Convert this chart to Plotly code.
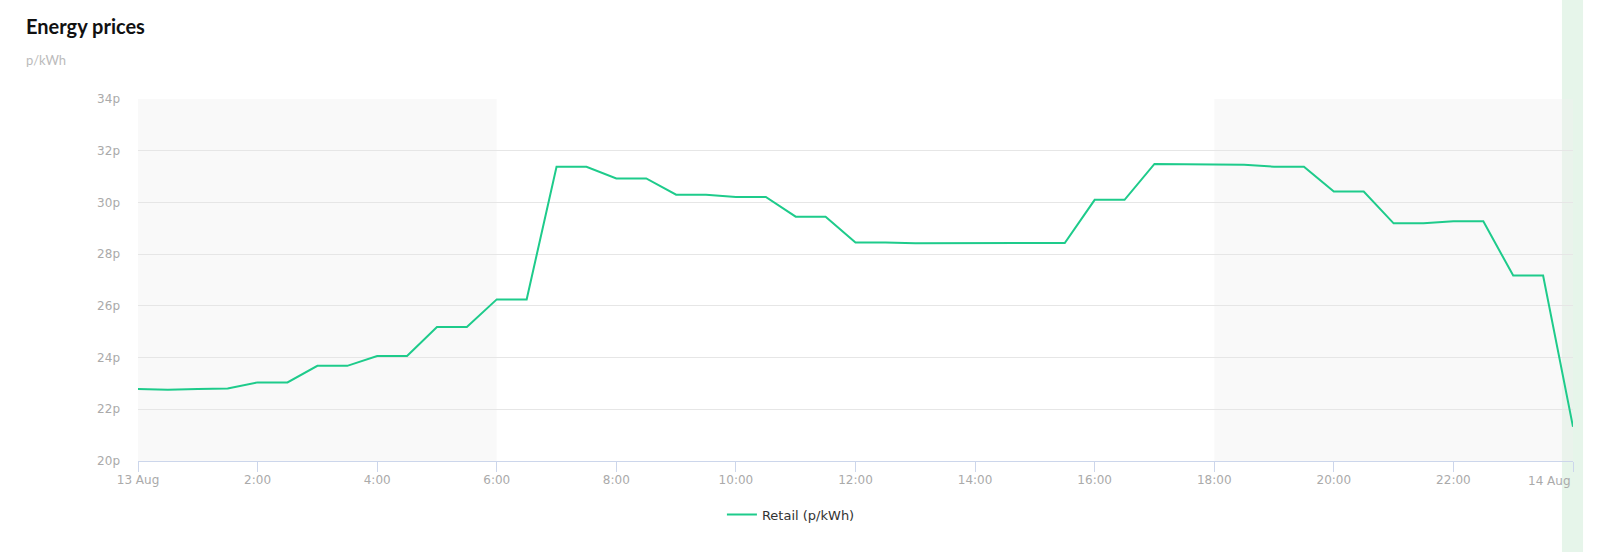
import pandas as pd
import plotly.graph_objects as go

# ---- data ----
start = "2023-08-13 00:00"
retail_p_kwh = [
    22.78, 22.76, 22.78, 22.80, 23.04, 23.04, 23.68, 23.68,   # 00:00-03:30
    24.06, 24.06, 25.18, 25.18, 26.25, 26.25, 31.38, 31.38,   # 04:00-07:30
    30.93, 30.93, 30.30, 30.30, 30.21, 30.21, 29.45, 29.45,   # 08:00-11:30
    28.45, 28.45, 28.42, 28.42, 28.42, 28.43, 28.43, 28.43,   # 12:00-15:30
    30.10, 30.10, 31.49, 31.49, 31.47, 31.46, 31.38, 31.38,   # 16:00-19:30
    30.42, 30.42, 29.19, 29.19, 29.27, 29.27, 27.17, 27.17,   # 20:00-23:30
    21.32,                                                    # 24:00
]
times = pd.date_range(start, periods=len(retail_p_kwh), freq="30min")

tick_hours = list(range(0, 24, 2))
tick_vals = [pd.Timestamp(start) + pd.Timedelta(hours=h) for h in tick_hours]
tick_text = ["13 Aug"] + [f"{h}:00" for h in tick_hours[1:]]
end_label = "14 Aug"
y_ticks = [20, 22, 24, 26, 28, 30, 32, 34]
y_tick_text = [f"{v}p" for v in y_ticks]

off_peak_bands = [(0, 6), (18, 24)]

# ---- figure ----
LINE = "#1ecb8b"
fig = go.Figure()
fig.add_trace(go.Scatter(
    x=times, y=retail_p_kwh, mode="lines", name="Retail (p/kWh)",
    line=dict(color=LINE, width=2),
))

t0 = pd.Timestamp(start)
shapes = [
    # "now" marker stripe (full height)
    dict(type="rect", xref="paper", yref="paper",
         x0=0.9923, x1=1.0070, y0=-0.3, y1=1.3,
         fillcolor="#e6f5ea", line=dict(width=0), layer="below"),
]
for a, b in off_peak_bands:
    shapes.append(dict(type="rect", xref="x", yref="paper",
                       x0=t0 + pd.Timedelta(hours=a), x1=t0 + pd.Timedelta(hours=b),
                       y0=0, y1=1, fillcolor="rgba(240,240,240,0.4)", line=dict(width=0),
                       layer="below"))

fig.update_layout(
    width=1600, height=552,
    margin=dict(l=138, r=27, t=99, b=91, autoexpand=False),
    paper_bgcolor="white", plot_bgcolor="rgba(0,0,0,0)",
    font=dict(family="DejaVu Sans, sans-serif", color="#aaaaaa", size=12),
    shapes=shapes,
    showlegend=True,
    legend=dict(orientation="h", x=0.455, xanchor="center", y=-0.148,
                yanchor="middle", font=dict(size=13, color="#333333"),
                bgcolor="rgba(0,0,0,0)"),
    annotations=[
        dict(text="<b>Energy prices</b>", xref="paper", yref="paper",
             x=-0.0795, y=1.202, xanchor="left", yanchor="middle",
             showarrow=False, font=dict(family="Lato, sans-serif", size=20, color="#111111")),
        dict(text="p/kWh", xref="paper", yref="paper",
             x=-0.0795, y=1.108, xanchor="left", yanchor="middle",
             showarrow=False, font=dict(family="Lato, sans-serif", size=13, color="#bbbbbb")),
        dict(text=end_label, xref="paper", yref="paper",
             x=1.0, y=-0.054, xanchor="right", yanchor="middle",
             showarrow=False, font=dict(size=12, color="#aaaaaa")),
    ],
    hovermode="x",
)

fig.update_xaxes(
    range=[t0, t0 + pd.Timedelta(hours=24)],
    tickvals=tick_vals + [t0 + pd.Timedelta(hours=24)],
    ticktext=tick_text + [""],
    ticks="outside", ticklen=10, tickcolor="#ccd6eb", tickwidth=1,
    showline=True, linecolor="#ccd6eb", linewidth=1,
    showgrid=False, zeroline=False, ticklabelstandoff=-2,
    tickfont=dict(size=12, color="#aaaaaa"),
)
fig.update_yaxes(
    range=[20, 34], tickvals=y_ticks, ticktext=y_tick_text,
    showgrid=True, gridcolor="#e6e6e6", gridwidth=1,
    zeroline=False, showline=False, ticks="", ticklabelstandoff=17,
    tickfont=dict(size=12, color="#aaaaaa"),
)

fig.write_html("out.html", config={"displayModeBar": False},
               post_script="document.body.style.margin='0';")
